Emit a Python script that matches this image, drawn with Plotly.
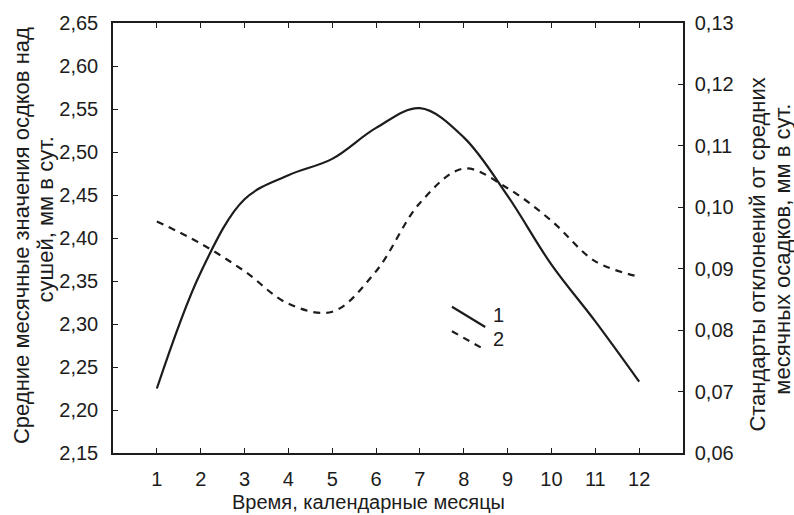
import plotly.graph_objects as go

# Calendar months
months = [1, 2, 3, 4, 5, 6, 7, 8, 9, 10, 11, 12]

# Mean monthly precipitation over land, mm/day (left axis)
mean_precip = [2.225, 2.360, 2.445, 2.473, 2.492, 2.528, 2.551, 2.517, 2.449, 2.369, 2.303, 2.233]

# Standard deviation of monthly precipitation, mm/day (right axis)
std_precip = [0.0977, 0.0941, 0.0896, 0.0843, 0.0830, 0.0896, 0.1007, 0.1063, 0.1031, 0.0978, 0.0912, 0.0887]

left_ticks = [2.15, 2.20, 2.25, 2.30, 2.35, 2.40, 2.45, 2.50, 2.55, 2.60, 2.65]
right_ticks = [0.06, 0.07, 0.08, 0.09, 0.10, 0.11, 0.12, 0.13]

FONT = "Liberation Sans, Arial, sans-serif"
INK = "#1c1c1c"
FS = 20      # tick labels and horizontal text
FS_V = 22    # rotated axis titles

fig = go.Figure()

fig.add_trace(go.Scatter(
    x=months, y=mean_precip, mode="lines",
    line=dict(color=INK, width=2.2, shape="spline", smoothing=1.0),
    showlegend=False, yaxis="y",
))
fig.add_trace(go.Scatter(
    x=months, y=std_precip, mode="lines",
    line=dict(color=INK, width=2.2, dash="7px,6px", shape="spline", smoothing=1.0),
    showlegend=False, yaxis="y2",
))

# Hand-drawn key: short solid and dashed strokes with numbers
fig.add_shape(type="line", xref="x", yref="y", x0=7.73, y0=2.320, x1=8.49, y1=2.2965,
              line=dict(color=INK, width=2.2))
fig.add_shape(type="line", xref="x", yref="y", x0=7.73, y0=2.2916, x1=8.47, y1=2.2704,
              line=dict(color=INK, width=2.2, dash="7px,6px"))
fig.add_annotation(x=8.80, y=2.310, xref="x", yref="y", text="1", showarrow=False,
                   font=dict(family=FONT, size=FS, color=INK))
fig.add_annotation(x=8.80, y=2.283, xref="x", yref="y", text="2", showarrow=False,
                   font=dict(family=FONT, size=FS, color=INK))


def px_x(p):
    """Pixel column -> paper x."""
    return (p - 113) / 570


def px_y(p):
    """Pixel row -> paper y."""
    return (453 - p) / 440


# Rotated axis titles, one annotation per line
vtitles = [
    ("Средние месячные значения осдков над", 21, 231),
    ("сушей, мм в сут.", 45, 214),
    ("Стандарты отклонений от средних", 758, 250),
    ("месячных осадков, мм в сут.", 783, 245),
]
for text, cx, cy in vtitles:
    fig.add_annotation(xref="paper", yref="paper", x=px_x(cx), y=px_y(cy),
                       xanchor="center", yanchor="middle", text=text,
                       textangle=-90, showarrow=False,
                       font=dict(family=FONT, size=FS_V, color=INK))

fig.add_annotation(xref="paper", yref="paper", x=px_x(368), y=px_y(503),
                   xanchor="center", yanchor="middle",
                   text="Время, календарные месяцы", showarrow=False,
                   font=dict(family=FONT, size=FS, color=INK))

fig.update_layout(
    width=794, height=515,
    margin=dict(l=113, r=111, t=13, b=62),
    paper_bgcolor="white", plot_bgcolor="white",
    separators=", ",
    font=dict(family=FONT, size=FS, color=INK),
    xaxis=dict(
        range=[0, 13], tickvals=months, ticktext=[str(m) for m in months],
        ticks="inside", ticklen=5, tickwidth=1.2, tickcolor=INK,
        showline=True, linecolor=INK, linewidth=1.5, mirror="ticks",
        showgrid=False, zeroline=False, ticklabelstandoff=7,
        tickfont=dict(family=FONT, size=FS, color=INK),
    ),
    yaxis=dict(
        range=[2.15, 2.65], tickvals=left_ticks, tickformat=".2f",
        ticks="inside", ticklen=5, tickwidth=1.2, tickcolor=INK,
        showline=True, linecolor=INK, linewidth=1.5,
        showgrid=False, zeroline=False, ticklabelstandoff=9,
        tickfont=dict(family=FONT, size=FS, color=INK),
    ),
    yaxis2=dict(
        range=[0.06, 0.13], tickvals=right_ticks, tickformat=".2f",
        overlaying="y", side="right",
        ticks="inside", ticklen=5, tickwidth=1.2, tickcolor=INK,
        showline=True, linecolor=INK, linewidth=1.5,
        showgrid=False, zeroline=False, ticklabelstandoff=6,
        tickfont=dict(family=FONT, size=FS, color=INK),
    ),
)

fig.write_html("out.html")
